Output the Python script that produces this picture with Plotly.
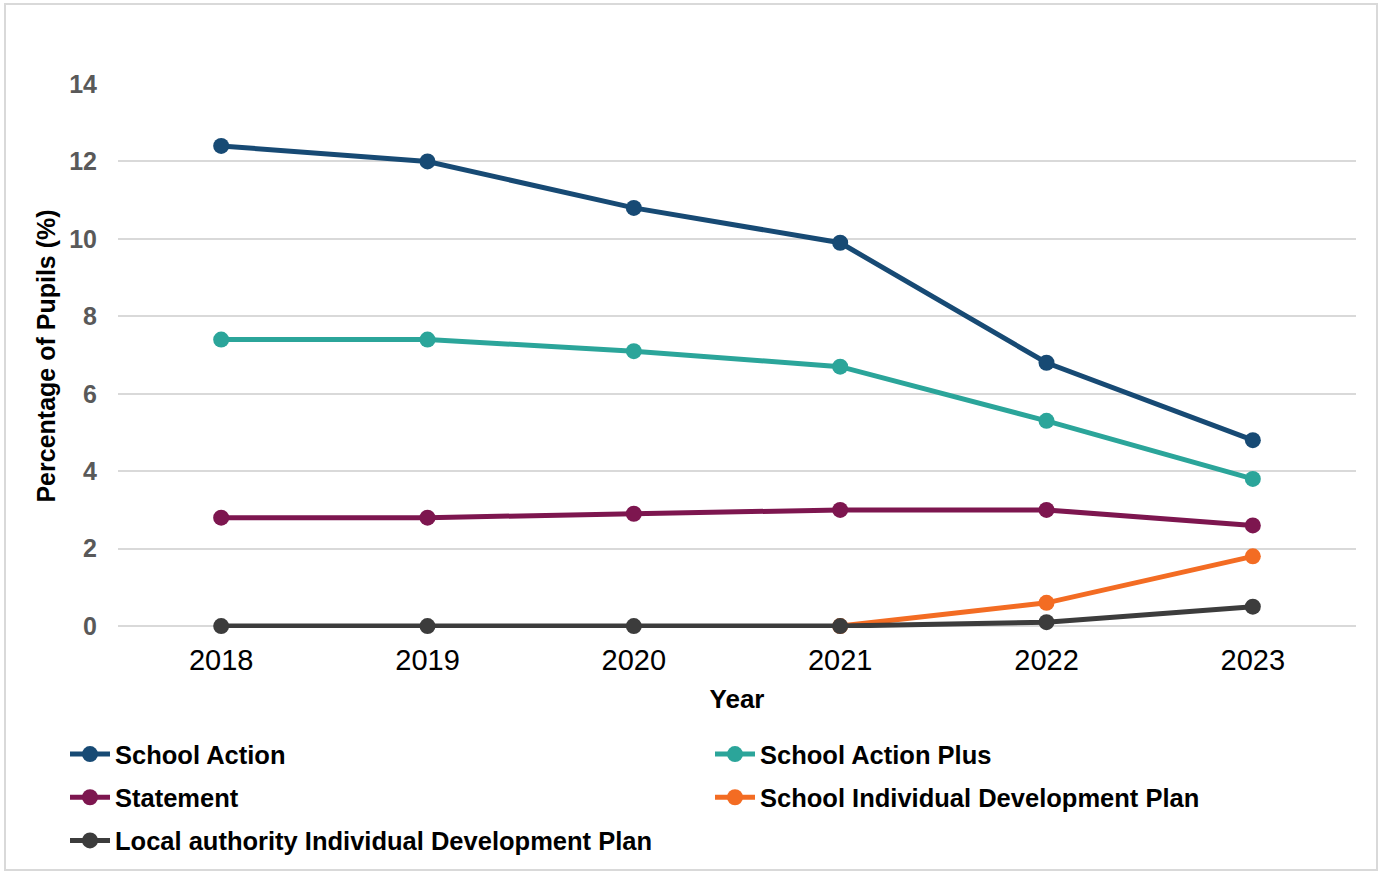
import plotly.graph_objects as go

years = ["2018", "2019", "2020", "2021", "2022", "2023"]
school_action = [12.4, 12.0, 10.8, 9.9, 6.8, 4.8]
school_action_plus = [7.4, 7.4, 7.1, 6.7, 5.3, 3.8]
statement = [2.8, 2.8, 2.9, 3.0, 3.0, 2.6]
school_idp = [None, None, None, 0.0, 0.6, 1.8]
la_idp = [0.0, 0.0, 0.0, 0.0, 0.1, 0.5]

series = [
    ("School Action", school_action, "#174a74", "legend"),
    ("School Action Plus", school_action_plus, "#2ba59a", "legend2"),
    ("Statement", statement, "#7d164f", "legend"),
    ("School Individual Development Plan", school_idp, "#f36c23", "legend2"),
    ("Local authority Individual Development Plan", la_idp, "#3c3c3c", "legend"),
]

fig = go.Figure()
for name, vals, col, lg in series:
    fig.add_trace(go.Scatter(
        x=years, y=vals, name=name, mode="lines+markers",
        line=dict(color=col, width=5),
        marker=dict(color=col, size=16),
        cliponaxis=False, legend=lg, legendgroup=name,
    ))

W, H = 1379, 872
L, R, T, B = 118, 23, 84, 244
pw, ph = W - L - R, H - T - B

def px_x(p):
    return (p - L) / pw

def px_y(p):
    return (H - B - p) / ph

fig.add_shape(type="rect", xref="paper", yref="paper",
              x0=px_x(5), x1=px_x(1377), y0=px_y(870), y1=px_y(4),
              line=dict(color="#d9d9d9", width=2), layer="below")

legend_common = dict(
    orientation="v", xanchor="left", yanchor="top",
    bgcolor="rgba(0,0,0,0)", tracegroupgap=7,
    font=dict(size=25.5, color="#000000", weight="bold"),
    itemwidth=40,
)

fig.update_layout(
    width=W, height=H,
    margin=dict(l=L, r=R, t=T, b=B, autoexpand=False),
    paper_bgcolor="white", plot_bgcolor="white",
    font=dict(family="Arial, Liberation Sans, sans-serif", color="#000000"),
    xaxis=dict(
        type="category", range=[-0.5, 5.5], showgrid=False, showline=False,
        zeroline=False, ticks="", tickfont=dict(size=29, color="#000000"),
        ticklabelstandoff=12,
        title=dict(text="<b>Year</b>", font=dict(size=26, color="#000000"), standoff=14),
    ),
    yaxis=dict(
        range=[-0.05, 14], tick0=0, dtick=2, showgrid=True, gridcolor="#d9d9d9", gridwidth=1.5,
        zeroline=False, showline=False, ticks="",
        tickfont=dict(size=25, color="#595959", weight="bold"),
        ticklabelstandoff=20,
        title=dict(text="<b>Percentage of Pupils (%)</b>", font=dict(size=25, color="#000000"), standoff=6),
    ),
    legend=dict(x=px_x(65), y=px_y(731), **legend_common),
    legend2=dict(x=px_x(710), y=px_y(731), **legend_common),
    showlegend=True,
)

fig.write_html("out.html")
